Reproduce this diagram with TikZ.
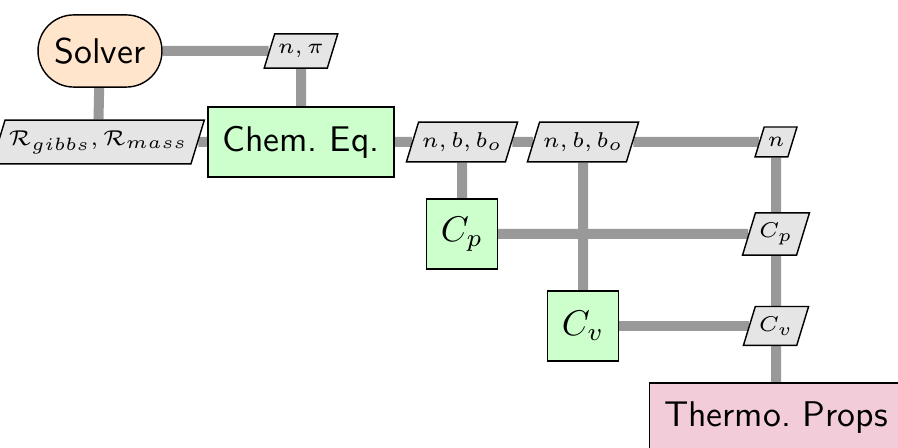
\documentclass[tikz,border=0pt]{standalone}
\usepackage{amsmath}
\usepackage{tikz}
\usetikzlibrary{shapes, positioning, backgrounds}

\begin{document}
\begin{tikzpicture}[
        x=0.28pt, y=0.28pt,
        solver/.style={
          rectangle,
          draw,
          fill=orange!20,
          rounded corners=10pt,
          minimum width=34.7pt,
          minimum height=20.2pt,
          font=\sffamily
        },
        func/.style={
          rectangle,
          draw,
          fill=green!20,
          minimum width=19.6pt,
          minimum height=19.6pt,
          inner xsep=4pt,
          font=\sffamily
        },
        props/.style={func, fill=purple!20},
        data/.style={
          trapezium,
          trapezium left angle=73,
          trapezium right angle=107,
          draw,
          fill=black!10,
          inner xsep=1pt,
          inner ysep=2.9pt,
          font=\fontsize{6.2}{7.5}\selectfont
        },
        link/.style={draw=black!40, line width=2.8pt}
    ]
    \useasboundingbox (0,0) rectangle (898,448);
    \clip (0,0) rectangle (898,448);

    % Define the nodes
    \node[solver] (solver) at (100,397) {Solver};
    \node[data] (npi) at (301,397) {$n,\pi$};
    \node[data] (resid) at (98,306) {$\mathcal{R}_{gibbs},\mathcal{R}_{mass}$};
    \node[func] (chemEq) at (301,306) {Chem.\ Eq.};
    \node[data] (nbb1) at (462,306) {$n,b,b_o$};
    \node[data] (nbb2) at (583,306) {$n,b,b_o$};
    \node[data] (nOut) at (776,306) {$n$};
    \node[func] (cp) at (462,214) {$C_p$};
    \node[data] (cpOut) at (776,214) {$C_p$};
    \node[func] (cv) at (583,122) {$C_v$};
    \node[data] (cvOut) at (776,122) {$C_v$};
    \node[props] (thermo) at (776,30) {Thermo.\ Props};

    % Connect the nodes
    \begin{scope}[on background layer]
      \draw[link] (solver) -- (npi);
      \draw[link] (npi) -- (chemEq);
      \draw[link] (solver) -- (resid);
      \draw[link] (resid) -- (chemEq);
      \draw[link] (chemEq) -- (nbb1);
      \draw[link] (nbb1) -- (nbb2);
      \draw[link] (nbb2) -- (nOut);
      \draw[link] (nbb1) -- (cp);
      \draw[link] (nbb2) -- (cv);
      \draw[link] (cp) -- (cpOut);
      \draw[link] (cv) -- (cvOut);
      \draw[link] (nOut) -- (cpOut);
      \draw[link] (cpOut) -- (cvOut);
      \draw[link] (cvOut) -- (thermo);
    \end{scope}

    \end{tikzpicture}
\end{document}
